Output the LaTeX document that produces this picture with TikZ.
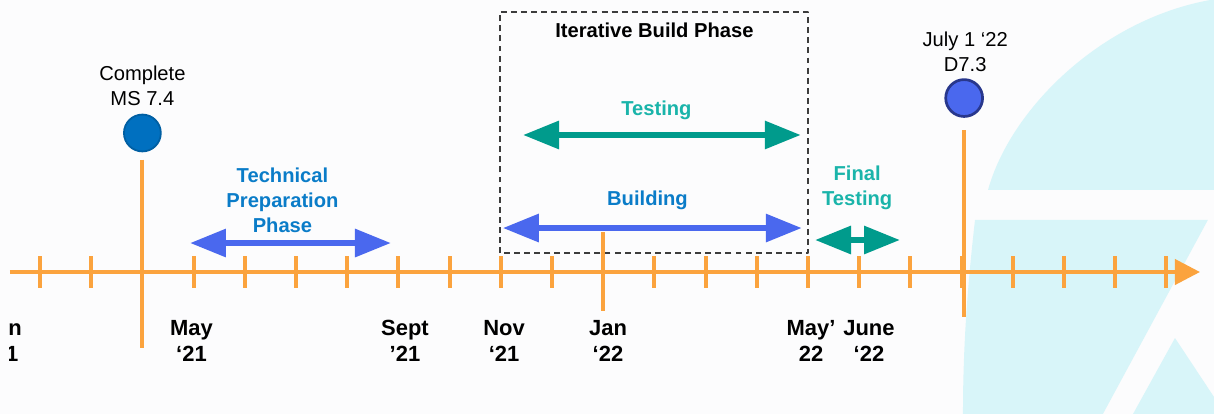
\documentclass[tikz,border=0pt]{standalone}
\usepackage{fontspec}
\setmainfont{Liberation Sans}
\usetikzlibrary{arrows.meta}
\definecolor{axisorange}{RGB}{251,163,62}
\definecolor{spanblue}{RGB}{74,104,238}
\definecolor{labelblue}{RGB}{10,124,200}
\definecolor{spanteal}{RGB}{0,155,140}
\definecolor{labelteal}{RGB}{26,180,170}
\definecolor{msblue}{RGB}{0,112,192}
\definecolor{dnavy}{RGB}{40,55,140}
\definecolor{logocyan}{RGB}{216,245,249}
\definecolor{boxgray}{RGB}{60,60,60}
\definecolor{paper}{RGB}{252,252,253}

\begin{document}
\begin{tikzpicture}[line join=round,x=1.0cm,y=1.0cm,
    milestone/.style={circle,inner sep=0pt,minimum size=0.72cm},
    mileline/.style={color=axisorange,line width=2.2pt},
    phase/.style={line width=3.4pt,{Triangle[length=20pt,width=15pt]}-{Triangle[length=20pt,width=15pt]}},
    note/.style={align=center,font=\fontsize{11.2}{13.9}\selectfont},
    phasetext/.style={align=center,font=\fontsize{11.2}{13.9}\selectfont\bfseries},
    datetext/.style={align=center,font=\fontsize{12.2}{14.4}\selectfont\bfseries}]
    \useasboundingbox (-0.781,-2.773) rectangle (22.93,5.3125);
    \fill[paper] (-0.781,-2.773) rectangle (22.93,5.3125);
    \clip (-0.586,-2.773) rectangle (22.93,5.3125);

    % logo pieces behind the axis
    \fill[logocyan] (22.852,5.3125) .. controls (20.703,4.922) and (18.945,3.164) .. (18.516,1.602)
        -- (22.93,1.602) -- (22.93,5.3125) -- cycle;
    \fill[logocyan] (18.262,1.016) -- (22.81,1.016) -- (20.76,-2.773) -- (18.027,-2.773)
        .. controls (18.027,-1.523) and (18.105,-0.352) .. (18.262,1.016) -- cycle;
    \fill[logocyan] (22.168,-1.289) -- (22.93,-2.441) -- (22.93,-2.773) -- (21.348,-2.773) -- cycle;

    % iterative build box
    \draw[boxgray,line width=0.7pt,dash pattern=on 3.3pt off 2.3pt] (8.984,0.371) rectangle (15.0,5.078);
    \node[phasetext,color=black] (iter) at (12.0,4.727) {Iterative Build Phase};

    % time axis
    \coordinate (start) at (-0.586,0);
    \coordinate (end) at (22.656,0);
    \draw[axisorange,line width=2.2pt,-{Triangle[length=14pt,width=14pt]}] (start) -- (end);
    \foreach \x in {0,1,...,22}
    \draw[axisorange,line width=2.2pt] (\x,-0.31) -- (\x,0.31);

    % milestones
    \node[milestone,fill=msblue,draw=msblue!85!black,line width=1pt] (ms74) at (2.0,2.715) {};
    \node[note] (ms74txt) at (2.0,3.643) {Complete\\MS 7.4};
    \draw[mileline] ([yshift=-4pt]ms74.south) -- ++(0,-3.69);

    \node[milestone,fill=spanblue,draw=dnavy,line width=1.5pt] (d73) at (18.05,3.398) {};
    \node[note] (d73txt) at (18.07,4.297) {July 1 ‘22\\D7.3};
    \draw[mileline] ([yshift=-7pt]d73.south) -- ++(0,-3.65);

    \coordinate (jantop) at (11,0.78);
    \coordinate (janbot) at (11,-0.76);
    \draw[mileline] (jantop) -- (janbot);

    % phase spans
    \coordinate (prep-l) at (2.93,0.566);
    \coordinate (prep-r) at (6.855,0.566);
    \draw[phase,spanblue] (prep-l) -- (prep-r);
    \node[phasetext,color=labelblue] (preptxt) at (4.736,1.406) {Technical\\Preparation\\Phase};

    \coordinate (test-l) at (9.434,2.676);
    \coordinate (test-r) at (14.86,2.676);
    \draw[phase,spanteal] (test-l) -- (test-r);
    \node[phasetext,color=labelteal] (testtxt) at (12.04,3.164) {Testing};

    \coordinate (build-l) at (9.04,0.859);
    \coordinate (build-r) at (14.88,0.859);
    \draw[phase,spanblue] (build-l) -- (build-r);
    \node[phasetext,color=labelblue] (buildtxt) at (11.865,1.406) {Building};

    \coordinate (final-l) at (15.137,0.625);
    \coordinate (final-r) at (16.797,0.625);
    \draw[phase,spanteal] (final-l) -- (final-r);
    \node[phasetext,color=labelteal] (finaltxt) at (15.96,1.65) {Final\\Testing};

    % dates under the axis
    \foreach \x/\txt [count=\i] in {-0.723/{Jan\\‘21},2.959/{May\\‘21},7.129/{Sept\\’21},
        9.063/{Nov\\‘21},11.094/{Jan\\‘22},15.059/{May’\\22},16.191/{June\\‘22}}
    \node[datetext] (date\i) at (\x,-1.348) {\txt};
\end{tikzpicture}
\end{document}
